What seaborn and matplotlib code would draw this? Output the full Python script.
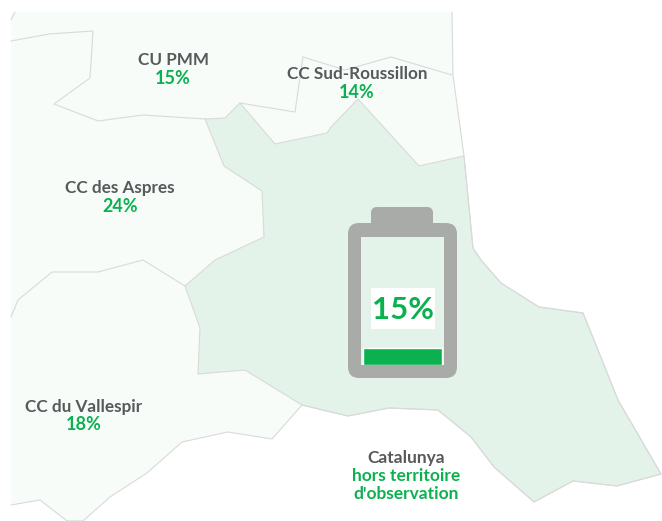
import matplotlib
matplotlib.use('Agg')
import matplotlib.pyplot as plt
import pandas as pd
import seaborn as sns
from matplotlib.patches import FancyBboxPatch, Rectangle

# map outlines, in picture pixels
outer_x = [11, 452, 453, 464, 473, 481, 501, 539, 583, 598, 618, 661, 617, 573, 534, 494, 471, 438, 389, 348, 331, 302, 272, 228, 182, 147, 110, 83, 67, 40, 11]
outer_y = [12, 12, 75, 156, 248, 260, 283, 307, 313, 350, 400, 474, 486, 481, 502, 467, 437, 410, 408, 416, 412, 405, 439, 432, 442, 473, 497, 521, 521, 500, 505]

zone_x = [205, 224, 262, 264, 215, 185, 200, 198, 245, 302, 331, 348, 389, 438, 471, 494, 534, 573, 617, 661, 618, 598, 583, 539, 501, 481, 473, 464, 419, 358, 331, 327, 275, 240, 225]
zone_y = [119, 166, 191, 237, 260, 286, 328, 374, 370, 405, 412, 416, 408, 410, 437, 467, 502, 481, 486, 474, 400, 350, 313, 307, 283, 260, 248, 156, 166, 99, 127, 133, 144, 103, 118]

pmm_x = [11, 49, 93, 90, 54, 98, 143, 205]
pmm_y = [41, 34, 31, 78, 104, 121, 115, 119]
roussillon_x = [240, 295, 303, 345, 391, 452]
roussillon_y = [103, 112, 57, 70, 57, 75]
aspres_x = [11, 18, 52, 98, 143, 185]
aspres_y = [317, 300, 272, 272, 260, 286]
corner_x = [11, 15]
corner_y = [20, 12]

names = ['CU PMM', 'CC Sud-Roussillon', 'CC des Aspres', 'CC du Vallespir']
pct = [15, 14, 24, 18]
name_x = [173, 357, 120, 84]
name_y = [60, 74, 188, 407]
zone_pct = 15

GREY = '#58595b'
GREEN = '#0cb14f'
PALE = '#f7fcf9'
ZONE = '#e3f3ea'
LINE = '#d8dbd8'
BATTERY = '#a9aba8'

sns.set_theme(style='white')
plt.rcParams['font.family'] = ['Lato', 'DejaVu Sans']

fig = plt.figure(figsize=(6.62, 5.21), dpi=100)
ax = fig.add_axes([0, 0, 1, 1])
ax.fill(outer_x, outer_y, color=PALE, lw=0)
ax.fill(zone_x, zone_y, color=ZONE, lw=0)

outlines = [(outer_x[1:], outer_y[1:]),
            (zone_x + zone_x[:1], zone_y + zone_y[:1]),
            (pmm_x, pmm_y), (roussillon_x, roussillon_y),
            (aspres_x, aspres_y), (corner_x, corner_y)]
for xs, ys in outlines:
    sns.lineplot(x=xs, y=ys, sort=False, estimator=None, color=LINE, lw=0.8, ax=ax)

# battery
ax.add_patch(FancyBboxPatch((371, 207), 62, 24, boxstyle='round,pad=0,rounding_size=6', fc=BATTERY, lw=0, zorder=3))
ax.add_patch(FancyBboxPatch((348, 223), 109, 155, boxstyle='round,pad=0,rounding_size=11', fc=BATTERY, lw=0, zorder=3))
ax.add_patch(Rectangle((361, 237), 83, 128, fc=ZONE, lw=0, zorder=4))
ax.add_patch(Rectangle((371, 288), 64, 41, fc='white', lw=0, zorder=4))

for n, p, x, y in zip(names, pct, name_x, name_y):
    ax.text(x, y, n, color=GREY, fontsize=12.3, fontweight='bold', ha='center', va='center')
    ax.text(x, y + 18, f'{p}%', color=GREEN, fontsize=13, fontweight='bold', ha='center', va='center')

ax.text(406, 458, 'Catalunya', color=GREY, fontsize=12.5, fontweight='bold', ha='center', va='center')
ax.text(406, 476, 'hors territoire', color=GREEN, fontsize=12.5, fontweight='bold', ha='center', va='center')
ax.text(406, 494, "d'observation", color=GREEN, fontsize=12.5, fontweight='bold', ha='center', va='center')
ax.text(403, 310, f'{zone_pct}%', color=GREEN, fontsize=22.5, fontweight='bold', ha='center', va='center', zorder=5)

ax.set_xlim(0, 662)
ax.set_ylim(521, 0)
ax.axis('off')

# charge level: 15 on a 0-100 scale
level = fig.add_axes([361 / 662, (521 - 365) / 521, 83 / 662, 113 / 521], zorder=5)
level.patch.set_alpha(0)
sns.barplot(data=pd.DataFrame({'zone': [''], 'charge': [zone_pct]}), x='zone', y='charge', color=GREEN, saturation=1, width=0.94, ax=level)
level.set_xlim(-0.5, 0.5)
level.set_ylim(0, 100)
level.axis('off')

fig.savefig('out.png', dpi=100)
